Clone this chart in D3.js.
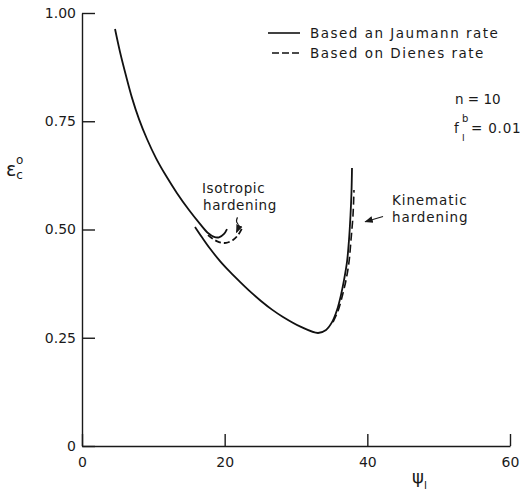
<!DOCTYPE html>
<html>
<head>
<meta charset="utf-8">
<script src="https://cdn.jsdelivr.net/npm/d3@7"></script>
<style>
  body { margin: 0; background: #fff; }
  svg text { font-family: "DejaVu Sans", sans-serif; fill: #1a1a1a; }
</style>
</head>
<body>
<svg id="plot" width="522" height="493"></svg>
<script>
// tick values and labels
const xTicks = [0, 20, 40, 60];
const xTickLabels = ["0", "20", "40", "60"];
const yTicks = [0, 0.25, 0.5, 0.75, 1.0];
const yTickLabels = ["0", "0.25", "0.50", "0.75", "1.00"];

// curves: [psi_I, eps_c^o]
const jaumannIsotropic = [
  [4.63, 0.963], [5.33, 0.910], [6.17, 0.855], [7.01, 0.804], [7.99, 0.755],
  [9.11, 0.709], [10.37, 0.665], [11.78, 0.624], [13.32, 0.584], [15.00, 0.545],
  [16.54, 0.513], [17.66, 0.492], [18.51, 0.483], [19.21, 0.482], [19.91, 0.490],
  [20.33, 0.501]
];
const jaumannKinematic = [
  [15.84, 0.506], [16.82, 0.482], [17.94, 0.456], [19.35, 0.427], [20.75, 0.402],
  [22.15, 0.379], [23.55, 0.357], [25.09, 0.335], [26.64, 0.315], [28.18, 0.298],
  [30.70, 0.275], [33.09, 0.261], [34.21, 0.268], [35.05, 0.286], [35.75, 0.314],
  [36.31, 0.349], [36.73, 0.383], [37.15, 0.425], [37.43, 0.476], [37.64, 0.533],
  [37.78, 0.587], [37.85, 0.642]
];
const dienesIsotropic = [
  [17.66, 0.487], [18.37, 0.478], [19.21, 0.471], [20.19, 0.469], [21.17, 0.476],
  [21.87, 0.487], [22.43, 0.503]
];
const dienesKinematic = [
  [35.19, 0.286], [35.89, 0.312], [36.45, 0.344], [37.01, 0.383], [37.43, 0.425],
  [37.71, 0.476], [37.99, 0.533], [38.13, 0.591]
];

const legendLabels = ["Based an Jaumann rate", "Based on Dienes rate"];

const svg = d3.select("#plot");

const x = d3.scaleLinear().domain([0, 60]).range([82, 510]);
const y = d3.scaleLinear().domain([0, 1]).range([446, 13]);

// arrow head
svg.append("defs").append("marker")
  .attr("id", "head")
  .attr("viewBox", "0 0 10 10")
  .attr("refX", 9).attr("refY", 5)
  .attr("markerWidth", 7).attr("markerHeight", 7)
  .attr("orient", "auto")
  .append("path")
  .attr("d", "M0,1 L10,5 L0,9 Z")
  .attr("fill", "#1a1a1a");

// axes, ticks point inward
const xAxis = d3.axisBottom(x)
  .tickValues(xTicks)
  .tickFormat((d, i) => xTickLabels[i])
  .tickSizeInner(-12)
  .tickSizeOuter(0)
  .tickPadding(11);

const yAxis = d3.axisLeft(y)
  .tickValues(yTicks)
  .tickFormat((d, i) => yTickLabels[i])
  .tickSizeInner(-13)
  .tickSizeOuter(0)
  .tickPadding(6);

const gx = svg.append("g")
  .attr("transform", "translate(0,446)")
  .call(xAxis);

const gy = svg.append("g")
  .attr("transform", "translate(82,0)")
  .call(yAxis);

[gx, gy].forEach(g => {
  g.selectAll("path, line").attr("stroke", "#1a1a1a").attr("stroke-width", 1.4);
  g.selectAll("text")
    .attr("font-size", 14)
    .attr("fill", "#1a1a1a")
    .style("font-family", "DejaVu Sans, sans-serif");
});

// curves
const line = d3.line()
  .x(d => x(d[0]))
  .y(d => y(d[1]))
  .curve(d3.curveCatmullRom.alpha(0.5));

svg.append("path").datum(jaumannIsotropic)
  .attr("d", line).attr("fill", "none")
  .attr("stroke", "#111").attr("stroke-width", 1.8);

svg.append("path").datum(jaumannKinematic)
  .attr("d", line).attr("fill", "none")
  .attr("stroke", "#111").attr("stroke-width", 1.8);

svg.append("path").datum(dienesIsotropic)
  .attr("d", line).attr("fill", "none")
  .attr("stroke", "#111").attr("stroke-width", 1.8)
  .attr("stroke-dasharray", "6,3");

svg.append("path").datum(dienesKinematic)
  .attr("d", line).attr("fill", "none")
  .attr("stroke", "#111").attr("stroke-width", 1.6)
  .attr("stroke-dasharray", "8,4");

// legend
const legend = svg.append("g").attr("transform", "translate(268,33)");
legend.append("line")
  .attr("x1", 0).attr("x2", 32).attr("y1", 0).attr("y2", 0)
  .attr("stroke", "#111").attr("stroke-width", 1.6);
legend.append("line")
  .attr("x1", 4).attr("x2", 32).attr("y1", 20).attr("y2", 20)
  .attr("stroke", "#111").attr("stroke-width", 1.6)
  .attr("stroke-dasharray", "7,3");
legend.selectAll("text.lab")
  .data(legendLabels)
  .enter().append("text")
  .attr("class", "lab")
  .attr("x", 42)
  .attr("y", (d, i) => 5 + i * 20)
  .attr("font-size", 13.5)
  .attr("letter-spacing", 1.5)
  .text(d => d);

// parameters
svg.append("text")
  .attr("x", 455).attr("y", 104)
  .attr("font-size", 13.5)
  .text("n = 10");

svg.append("text").attr("x", 454).attr("y", 133).attr("font-size", 13.5).text("f");
svg.append("text").attr("x", 462).attr("y", 122).attr("font-size", 10).text("b");
svg.append("text").attr("x", 462).attr("y", 141).attr("font-size", 9).text("I");
svg.append("text").attr("x", 471).attr("y", 133).attr("font-size", 13.5)
  .attr("letter-spacing", 0.8).text("= 0.01");

// annotations
const iso = svg.append("text").attr("font-size", 13.5).attr("letter-spacing", 0.6);
iso.append("tspan").attr("x", 202).attr("y", 193).text("Isotropic");
iso.append("tspan").attr("x", 203).attr("y", 210).text("hardening");

svg.append("path")
  .attr("d", `M${x(21.8)},${y(0.528)} q-2,4 0,6 q2,2 -1,9`)
  .attr("fill", "none").attr("stroke", "#1a1a1a").attr("stroke-width", 1.2)
  .attr("marker-end", "url(#head)");

const kin = svg.append("text").attr("font-size", 13.5).attr("letter-spacing", 0.9);
kin.append("tspan").attr("x", 392).attr("y", 205).text("Kinematic");
kin.append("tspan").attr("x", 392).attr("y", 222).text("hardening");

svg.append("line")
  .attr("x1", x(42.2)).attr("y1", y(0.530))
  .attr("x2", x(39.7)).attr("y2", y(0.518))
  .attr("stroke", "#1a1a1a").attr("stroke-width", 1.2)
  .attr("marker-end", "url(#head)");

// axis titles
const yt = svg.append("text").attr("x", 6).attr("y", 176);
yt.append("tspan").attr("font-size", 19).text("ε");
yt.append("tspan").attr("font-size", 12).attr("dy", 3).text("c");
yt.append("tspan").attr("font-size", 12).attr("dx", -7).attr("dy", -15).text("o");

const xt = svg.append("text").attr("x", 412).attr("y", 483);
xt.append("tspan").attr("font-size", 18).text("ψ");
xt.append("tspan").attr("font-size", 10).attr("dy", 6).text("I");
</script>
</body>
</html>
